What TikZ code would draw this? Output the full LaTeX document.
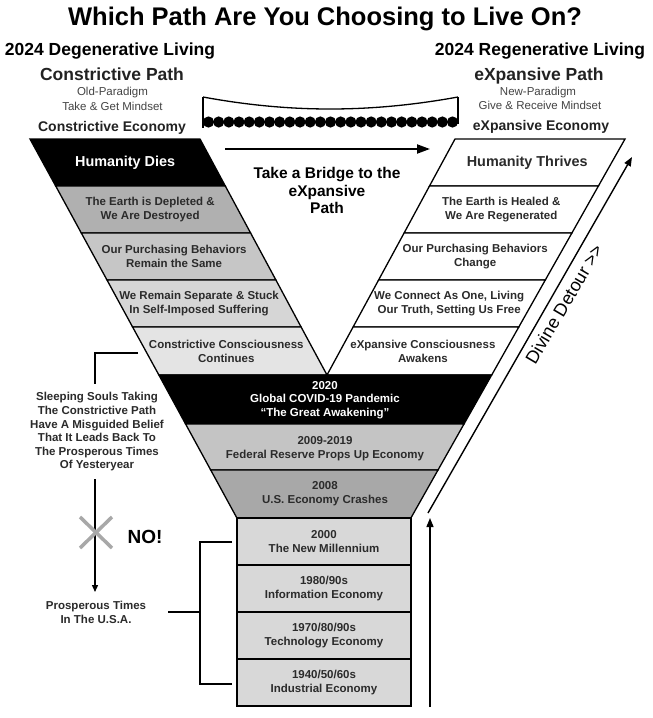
\documentclass[tikz,border=0pt]{standalone}
\usepackage{fontspec}
\setmainfont{Liberation Sans}
\usetikzlibrary{arrows.meta,calc}
\newcommand\myfs[2]{\fontsize{#1}{#2}\selectfont}
\definecolor{gA}{HTML}{B0B0B0}
\definecolor{gB}{HTML}{C6C6C6}
\definecolor{gC}{HTML}{D6D6D6}
\definecolor{gD}{HTML}{E4E4E4}
\definecolor{gE}{HTML}{C4C4C4}
\definecolor{gF}{HTML}{A8A8A8}
\definecolor{rc}{HTML}{D8D8D8}
\definecolor{txt}{HTML}{2B2B2B}
\definecolor{hd}{HTML}{222222}
\definecolor{sb}{HTML}{444444}
\definecolor{xg}{HTML}{A8A8A8}
\begin{document}
\begin{tikzpicture}[x=1pt,y=-1pt,
  titletext/.style={font=\myfs{25.5}{30}\bfseries, anchor=base, inner sep=0},
  headtext/.style={font=\myfs{17.5}{21}\bfseries, anchor=base, inner sep=0},
  pathtext/.style={font=\myfs{17.5}{21}\bfseries, text=hd, anchor=base, inner sep=0},
  subtext/.style={font=\myfs{11.5}{14}, text=sb, anchor=base, inner sep=0},
  econtext/.style={font=\myfs{14}{17}\bfseries, text=hd, anchor=base, inner sep=0},
  bandtext/.style={font=\myfs{11.5}{13.8}\bfseries, text=txt, align=center, inner sep=0},
  bigtext/.style={font=\myfs{14.4}{17}\bfseries, inner sep=0},
  seg/.style={draw=black, line width=1.3pt, line join=miter},
  rectbox/.style={draw=black, line width=1.3pt, fill=rc, minimum width=174pt, minimum height=47pt,
    font=\myfs{11.5}{13.8}\bfseries, text=txt, align=center, inner sep=0},
  conn/.style={line width=1.3pt},
  arrS/.style={line width=1.3pt, -{Triangle[length=7pt,width=6pt]}},
]
\useasboundingbox (0,0) rectangle (653,718);
\fill[white] (0,0) rectangle (653,718);

% ---------- headings ----------
\node[titletext] (title) at (325,25) {Which Path Are You Choosing to Live On?};
\node[headtext] (degen) at (110,55) {2024 Degenerative Living};
\node[headtext] (regen) at (540,55) {2024 Regenerative Living};
\node[pathtext] (cpath) at (112,80) {Constrictive Path};
\node[subtext] (cold) at (112.5,95) {Old-Paradigm};
\node[subtext] (ctake) at (112.5,110) {Take \& Get Mindset};
\node[econtext] (cecon) at (112,131) {Constrictive Economy};
\node[pathtext] (epath) at (539,80) {eXpansive Path};
\node[subtext] (enew) at (538,95) {New-Paradigm};
\node[subtext] (egive) at (540,109) {Give \& Receive Mindset};
\node[econtext] (eecon) at (541,130) {eXpansive Economy};

% ---------- corner coordinates ----------
\coordinate (a0) at (30,139);   \coordinate (a1) at (55.7,186);
\coordinate (a2) at (81.3,233); \coordinate (a3) at (107,280);
\coordinate (a4) at (132.6,327);\coordinate (a5) at (158.9,375);
\coordinate (a6) at (185.6,424);\coordinate (a7) at (210.7,470);
\coordinate (a8) at (236.9,518);
\coordinate (b0) at (200,139);  \coordinate (b1) at (225.3,186);
\coordinate (b2) at (250.6,233);\coordinate (b3) at (275.9,280);
\coordinate (b4) at (301.1,327);\coordinate (v) at (327,375);
\coordinate (c0) at (455,139);  \coordinate (c1) at (429.5,186);
\coordinate (c2) at (404.1,233);\coordinate (c3) at (378.6,280);
\coordinate (c4) at (353.1,327);
\coordinate (d0) at (625,139);  \coordinate (d1) at (598.4,186);
\coordinate (d2) at (571.9,233);\coordinate (d3) at (545.3,280);
\coordinate (d4) at (518.8,327);\coordinate (d5) at (491.7,375);
\coordinate (d6) at (464,424);  \coordinate (d7) at (438,470);
\coordinate (d8) at (410.9,518);

% ---------- left (constrictive) bands ----------
\filldraw[seg, fill=black] (a0) -- (b0) -- (b1) -- (a1) -- cycle;
\filldraw[seg, fill=gA] (a1) -- (b1) -- (b2) -- (a2) -- cycle;
\filldraw[seg, fill=gB] (a2) -- (b2) -- (b3) -- (a3) -- cycle;
\filldraw[seg, fill=gC] (a3) -- (b3) -- (b4) -- (a4) -- cycle;
\filldraw[seg, fill=gD] (a4) -- (b4) -- (v) -- (a5) -- cycle;
% ---------- right (expansive) bands ----------
\filldraw[seg, fill=white] (c0) -- (d0) -- (d1) -- (c1) -- cycle;
\filldraw[seg, fill=white] (c1) -- (d1) -- (d2) -- (c2) -- cycle;
\filldraw[seg, fill=white] (c2) -- (d2) -- (d3) -- (c3) -- cycle;
\filldraw[seg, fill=white] (c3) -- (d3) -- (d4) -- (c4) -- cycle;
\filldraw[seg, fill=white] (c4) -- (d4) -- (d5) -- (v) -- cycle;
% ---------- funnel ----------
\filldraw[seg, fill=black] (a5) -- (d5) -- (d6) -- (a6) -- cycle;
\filldraw[seg, fill=gE] (a6) -- (d6) -- (d7) -- (a7) -- cycle;
\filldraw[seg, fill=gF] (a7) -- (d7) -- (d8) -- (a8) -- cycle;

% ---------- band texts ----------
\node[bigtext, text=white, xshift=-2.5pt] (l1) at ($(a0)!0.5!(b1)$) {Humanity Dies};
\node[bandtext, xshift=-3pt] (l2) at ($(a1)!0.5!(b2)$) {The Earth is Depleted \&\\We Are Destroyed};
\node[bandtext, xshift=-4.5pt] (l3) at ($(a2)!0.5!(b3)$) {Our Purchasing Behaviors\\Remain the Same};
\node[bandtext, xshift=-5pt] (l4) at ($(a3)!0.5!(b4)$) {We Remain Separate \& Stuck\\In Self-Imposed Suffering};
\node[bandtext, xshift=-3.5pt] (l5) at ($(a4)!0.5!(v)$) {Constrictive Consciousness\\Continues};
\node[bigtext, text=txt] (r1) at ($(c1)!0.5!(d0)$) {Humanity Thrives};
\node[bandtext] (r2) at ($(c2)!0.5!(d1)$) {The Earth is Healed \&\\We Are Regenerated};
\node[bandtext] (r3) at ($(c3)!0.5!(d2)$) {Our Purchasing Behaviors\\Change};
\node[bandtext] (r4) at ($(c4)!0.5!(d3)$) {We Connect As One, Living\\Our Truth, Setting Us Free};
\node[bandtext] (r5) at ($(v)!0.5!(d4)$) {eXpansive Consciousness\\Awakens};
\node[bandtext, text=white] (f1) at (325,400) {2020\\Global COVID-19 Pandemic\\“The Great Awakening”};
\node[bandtext] (f2) at (325,448.5) {2009-2019\\Federal Reserve Props Up Economy};
\node[bandtext] (f3) at (325,493.5) {2008\\U.S. Economy Crashes};

% ---------- bottom boxes ----------
\node[rectbox] (m1) at (324,541.5) {2000\\The New Millennium};
\node[rectbox] (m2) at (324,588.5) {1980/90s\\Information Economy};
\node[rectbox] (m3) at (324,635.5) {1970/80/90s\\Technology Economy};
\node[rectbox] (m4) at (324,682.5) {1940/50/60s\\Industrial Economy};

% ---------- bridge ----------
\draw[line width=2.6pt] (203,97) -- (203,128);
\draw[line width=2.6pt] (458,97) -- (458,124);
\draw[line width=1.3pt] (203,97) .. controls (290,113) and (370,113) .. (458,97);
\foreach \i in {0,...,24} \fill (208.5+\i*10.1667,122) circle (5.6pt);
\coordinate (br0) at (225,149);
\coordinate (br1) at (430,149);
\draw[line width=2pt, -{Triangle[length=13pt,width=9pt]}] (br0) -- (br1);
\node[font=\myfs{15.5}{17.5}\bfseries, align=center, inner sep=0] (bridge) at (327,190.5)
  {Take a Bridge to the\\eXpansive\\Path};

% ---------- divine detour ----------
\coordinate (dd0) at (428,513);
\coordinate (dd1) at (632,157);
\draw[line width=1.4pt, -{Triangle[length=9pt,width=7pt]}] (dd0) -- (dd1);
\node[font=\myfs{18}{20}, rotate=59.5, inner sep=0] (ddt) at (564,304) {Divine Detour {>}{>}};
\coordinate (up0) at (430,707);
\coordinate (up1) at (430,518);
\draw[line width=1.4pt, -{Triangle[length=9pt,width=7pt]}] (up0) -- (up1);

% ---------- left annotations ----------
\node[bandtext, font=\myfs{11.5}{13.6}\bfseries] (sleep) at (97,432)
  {Sleeping Souls Taking\\The Constrictive Path\\Have A Misguided Belief\\That It Leads Back To\\The Prosperous Times\\Of Yesteryear};
\coordinate (s1) at (138,353);
\coordinate (s2) at (95,384);
\draw[conn] (s1) -| (s2);
\node[bandtext] (pros) at (96,612) {Prosperous Times\\In The U.S.A.};
\coordinate (q0) at (95,479);
\coordinate (q1) at (95,592);
\draw[arrS] (q0) -- (q1);
\draw[xg, line width=3.5pt] (80,517) -- (112,548);
\draw[xg, line width=3.5pt] (80,548) -- (112,517);
\node[font=\myfs{19}{22}\bfseries, inner sep=0] (no) at (145,537) {NO!};
\coordinate (p1) at (232,542);
\coordinate (p2) at (232,684);
\coordinate (pm) at (168,612);
\draw[conn] (p1) -- ++(-32,0) |- (p2);
\draw[conn] (pm) -- ++(32,0);
\end{tikzpicture}
\end{document}
